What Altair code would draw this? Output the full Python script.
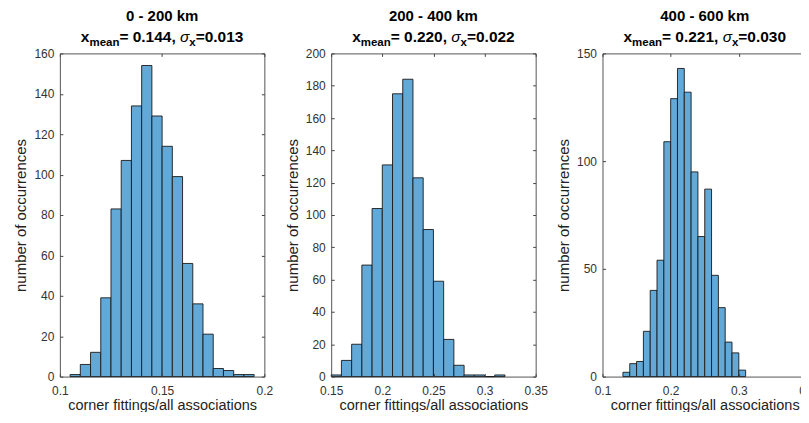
import altair as alt
import pandas as pd

FONT = "Liberation Sans"
BAR_FILL = "#62A9D8"
BAR_EDGE = "#1a1a1a"
T = 3  # inward tick length
PW, PH = 205, 324

# ---- Panel 1: 0 - 200 km ----
p1_bin_starts = [0.105, 0.110, 0.115, 0.120, 0.125, 0.130, 0.135, 0.140, 0.145,
                 0.150, 0.155, 0.160, 0.165, 0.170, 0.175, 0.180, 0.185, 0.190]
p1_bin_width = 0.005
p1_counts = [1, 6, 12, 39, 83, 107, 134, 154, 129, 114, 99, 56, 36, 21, 4, 3, 1, 1]
p1_xticks = [0.1, 0.15, 0.2]
p1_yticks = [0, 20, 40, 60, 80, 100, 120, 140, 160]
p1_head = "0 - 200 km"
p1_mean, p1_sd = "0.144", "0.013"

# ---- Panel 2: 200 - 400 km ----
p2_bin_starts = [0.15, 0.16, 0.17, 0.18, 0.19, 0.20, 0.21, 0.22, 0.23,
                 0.24, 0.25, 0.26, 0.27, 0.28, 0.29, 0.30, 0.31]
p2_bin_width = 0.01
p2_counts = [1, 10, 20, 69, 104, 131, 175, 184, 123, 91, 59, 23, 7, 1, 1, 0, 1]
p2_xticks = [0.15, 0.2, 0.25, 0.3, 0.35]
p2_yticks = [0, 20, 40, 60, 80, 100, 120, 140, 160, 180, 200]
p2_head = "200 - 400 km"
p2_mean, p2_sd = "0.220", "0.022"

# ---- Panel 3: 400 - 600 km ----
p3_bin_starts = [0.13, 0.14, 0.15, 0.16, 0.17, 0.18, 0.19, 0.20, 0.21,
                 0.22, 0.23, 0.24, 0.25, 0.26, 0.27, 0.28, 0.29, 0.30]
p3_bin_width = 0.01
p3_counts = [2, 6, 7, 21, 40, 54, 109, 129, 143, 132, 95, 65, 87, 47, 32, 16, 11, 3]
p3_xticks = [0.1, 0.2, 0.3, 0.4]
p3_yticks = [0, 50, 100, 150]
p3_head = "400 - 600 km"
p3_mean, p3_sd = "0.221", "0.030"

# ---- title typography (Arial/Liberation Sans Bold advance widths, per 1000 em) ----
BOLD_W = {" ": 278, ",": 278, "-": 333, ".": 278, "=": 584,
          "a": 556, "e": 556, "k": 556, "m": 889, "n": 611, "x": 556}
for d in "0123456789":
    BOLD_W[d] = 556
SIGMA_W = 600
MAIN_FS, SUB_FS = 15.5, 11.5
HEAD_Y, LINE2_Y, SUB_DY = -32.1, -11.8, 4.1


def text_width(s, fs, kind):
    if kind == "sig":
        return SIGMA_W / 1000 * fs
    return sum(BOLD_W.get(c, 556) for c in s) / 1000 * fs


def text_layer(txt, x, y, fs, weight="bold", style="normal", align="left"):
    return alt.Chart(alt.Data(values=[{}])).mark_text(
        text=txt, align=align, baseline="alphabetic", font=FONT,
        fontSize=fs, fontWeight=weight, fontStyle=style, color="black",
    ).encode(x=alt.value(x), y=alt.value(y))


def title_layers(head, mean_s, sd_s):
    layers = [text_layer(head, PW / 2, HEAD_Y, 15, align="center")]
    segs = [("x", "main"), ("mean", "sub"), ("= " + mean_s + ", ", "main"),
            ("σ", "sig"), ("x", "sub"), ("=" + sd_s, "main")]
    sizes = {"main": MAIN_FS, "sub": SUB_FS, "sig": MAIN_FS}
    total = sum(text_width(s, sizes[k], k) for s, k in segs)
    x = PW / 2 - total / 2
    for s, k in segs:
        fs = sizes[k]
        if k == "sub":
            layers.append(text_layer(s, x, LINE2_Y + SUB_DY, fs))
        elif k == "sig":
            layers.append(text_layer(s, x, LINE2_Y, fs, weight="normal", style="italic"))
        else:
            layers.append(text_layer(s, x, LINE2_Y, fs))
        x += text_width(s, fs, k)
    return layers


def panel(starts, bw, counts, xdom, xticks, ymax, yticks, head, mean_s, sd_s):
    df = pd.DataFrame({
        "start": starts,
        "end": [s + bw for s in starts],
        "count": counts,
    })
    xscale = alt.Scale(domain=xdom, nice=False, zero=False, padding=0)
    yscale = alt.Scale(domain=[0, ymax], nice=False, padding=0)
    bars = alt.Chart(df).mark_rect(
        fill=BAR_FILL, stroke=BAR_EDGE, strokeWidth=0.9
    ).encode(
        x=alt.X("start:Q", scale=xscale,
                axis=alt.Axis(values=xticks, format="~g", orient="bottom",
                              title="corner fittings/all associations",
                              titleFontSize=14.5,
                              offset=-T, tickSize=T, domain=False, grid=False,
                              labelFlush=False, labelPadding=9, titlePadding=2,
                              zindex=1)),
        x2="end:Q",
        y=alt.Y("count:Q", scale=yscale,
                axis=alt.Axis(values=yticks, format="d", orient="left",
                              title="number of occurrences",
                              offset=-T, tickSize=T, domain=False, grid=False,
                              labelPadding=6, titlePadding=5, zindex=1)),
        y2=alt.datum(0),
    )
    frame = alt.Chart(df).mark_point(opacity=0).encode(
        x=alt.X("start:Q", scale=xscale,
                axis=alt.Axis(values=xticks, orient="top", labels=False, title="",
                              offset=-T, tickSize=T, domain=False, grid=False,
                              zindex=1)),
        y=alt.Y("count:Q", scale=yscale,
                axis=alt.Axis(values=yticks, orient="right", labels=False, title="",
                              offset=-T, tickSize=T, domain=False, grid=False,
                              zindex=1)),
    )
    return alt.layer(bars, frame, *title_layers(head, mean_s, sd_s)).resolve_axis(
        x="independent", y="independent"
    ).properties(width=PW, height=PH)


c1 = panel(p1_bin_starts, p1_bin_width, p1_counts, [0.1, 0.2], p1_xticks, 160, p1_yticks,
           p1_head, p1_mean, p1_sd)
c2 = panel(p2_bin_starts, p2_bin_width, p2_counts, [0.15, 0.35], p2_xticks, 200, p2_yticks,
           p2_head, p2_mean, p2_sd)
c3 = panel(p3_bin_starts, p3_bin_width, p3_counts, [0.1, 0.4], p3_xticks, 150, p3_yticks,
           p3_head, p3_mean, p3_sd)

chart = alt.hconcat(c1, c2, c3, spacing=67, bounds="flush").properties(
    padding={"left": 5, "top": 0, "right": -15, "bottom": -1}
).configure_view(
    stroke="#555555", strokeWidth=1
).configure_axis(
    labelFont=FONT, labelFontSize=12, labelColor="#333333",
    titleFont=FONT, titleFontSize=15, titleFontWeight="normal", titleColor="#222222",
    tickColor="#444444", tickWidth=1,
)

chart.save("out.html", embed_options={"renderer": "svg", "actions": False})
